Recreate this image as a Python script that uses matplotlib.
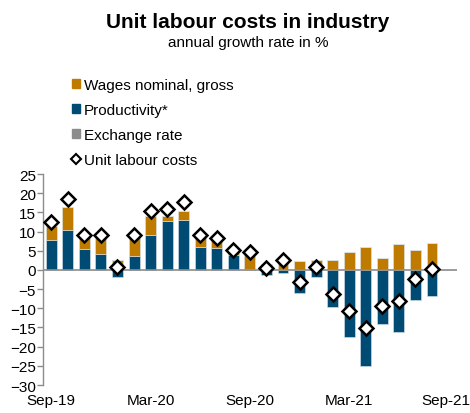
import numpy as np
import matplotlib.pyplot as plt
import matplotlib.transforms as mtrans
from matplotlib.patches import Patch
from matplotlib.lines import Line2D

plt.rcParams['font.family'] = ['Liberation Sans', 'DejaVu Sans']

#%% DATA

months = ['Sep-19', 'Oct-19', 'Nov-19', 'Dec-19', 'Jan-20', 'Feb-20', 'Mar-20',
          'Apr-20', 'May-20', 'Jun-20', 'Jul-20', 'Aug-20', 'Sep-20', 'Oct-20',
          'Nov-20', 'Dec-20', 'Jan-21', 'Feb-21', 'Mar-21', 'Apr-21', 'May-21',
          'Jun-21', 'Jul-21', 'Aug-21', 'Sep-21']
tick_labels = ['Sep-19', 'Mar-20', 'Sep-20', 'Mar-21', 'Sep-21']

productivity = [7.7, 10.4, 5.5, 4.2, -1.8, 3.7, 9.1, 12.7, 13.1, 6.0, 5.7, 3.9,
                0.3, -1.2, -0.7, -6.0, -1.8, -9.7, -17.5, -25.0, -14.1, -16.2,
                -7.7, -6.9, np.nan]
wages = [3.7, 6.0, 3.5, 4.2, 2.7, 4.7, 4.9, 1.3, 2.2, 2.5, 2.4, 0.9,
         3.9, 1.6, 2.3, 2.4, 2.7, 2.7, 4.8, 6.0, 3.0, 6.9,
         5.1, 7.0, np.nan]
exchange = [0.0] * 25
ulc = [12.5, 18.4, 9.0, 9.0, 0.9, 9.0, 15.5, 15.9, 17.8, 9.0, 8.4, 5.3,
       4.6, 0.5, 2.7, -3.2, 0.8, -6.3, -10.8, -15.1, -9.5, -8.0,
       -2.3, 0.3, np.nan]

#%% COLOURS

c_wage = '#BF7A00'
c_prod = '#004B73'
c_exch = '#8C8C8C'

#%% GRAPHE

x = np.arange(len(months))
prod = np.array(productivity)
wag = np.array(wages)
exc = np.array(exchange)

# positive parts stack upward, negative parts downward
pos_base = np.zeros(len(x))
neg_base = np.zeros(len(x))

fig = plt.figure(figsize=(4.7, 4.14), dpi=100)
ax = fig.add_axes([0.0915, 0.0676, 0.8805, 0.5094])

for vals, col in [(prod, c_prod), (wag, c_wage), (exc, c_exch)]:
    v = np.nan_to_num(vals)
    base = np.where(v >= 0, pos_base, neg_base)
    ax.bar(x, v, 0.66, bottom=base, color=col, edgecolor='#DCE6EE', linewidth=0.4)
    pos_base = pos_base + np.where(v > 0, v, 0)
    neg_base = neg_base + np.where(v < 0, v, 0)

ax.axhline(0, color='#8C8C8C', linewidth=1.2, zorder=2)
ax.plot(x, ulc, 'D', color='white', markeredgecolor='black', markeredgewidth=1.8,
        markersize=7, zorder=3)

ax.set_xlim(-0.5, len(x) - 0.5)
ax.set_ylim(-30, 25)
ax.set_yticks(np.arange(-30, 26, 5))
ax.set_xticks([months.index(m) for m in tick_labels])
ax.set_xticklabels(tick_labels)
ax.tick_params(axis='x', length=0, labelsize=11, pad=6)
ax.tick_params(axis='y', length=4, width=1, color='#8C8C8C', labelsize=11, pad=1)
for s in ['top', 'right', 'bottom']:
    ax.spines[s].set_visible(False)
ax.spines['left'].set_color('#8C8C8C')
ax.spines['left'].set_linewidth(1)

# last label sits at the right edge, nudge it a little to the left
last = ax.get_xticklabels()[-1]
last.set_transform(last.get_transform() + mtrans.ScaledTranslation(-3 / 100, 0, fig.dpi_scale_trans))

fig.text(0.526, 0.945, 'Unit labour costs in industry', ha='center', va='center',
         fontsize=15, fontweight='bold')
fig.text(0.528, 0.896, 'annual growth rate in %', ha='center', va='center', fontsize=11)

handles = [Patch(color=c_wage), Patch(color=c_prod), Patch(color=c_exch),
           Line2D([], [], marker='D', linestyle='none', color='white',
                  markeredgecolor='black', markeredgewidth=1.5, markersize=5)]
labels = ['Wages nominal, gross', 'Productivity*', 'Exchange rate', 'Unit labour costs']
fig.legend(handles, labels, loc='upper left', bbox_to_anchor=(0.153, 0.81),
           frameon=False, fontsize=11, handlelength=0.5, handleheight=0.5,
           handletextpad=0.3, labelspacing=0.72, borderaxespad=0, borderpad=0)

plt.savefig('out.png', dpi=100)
